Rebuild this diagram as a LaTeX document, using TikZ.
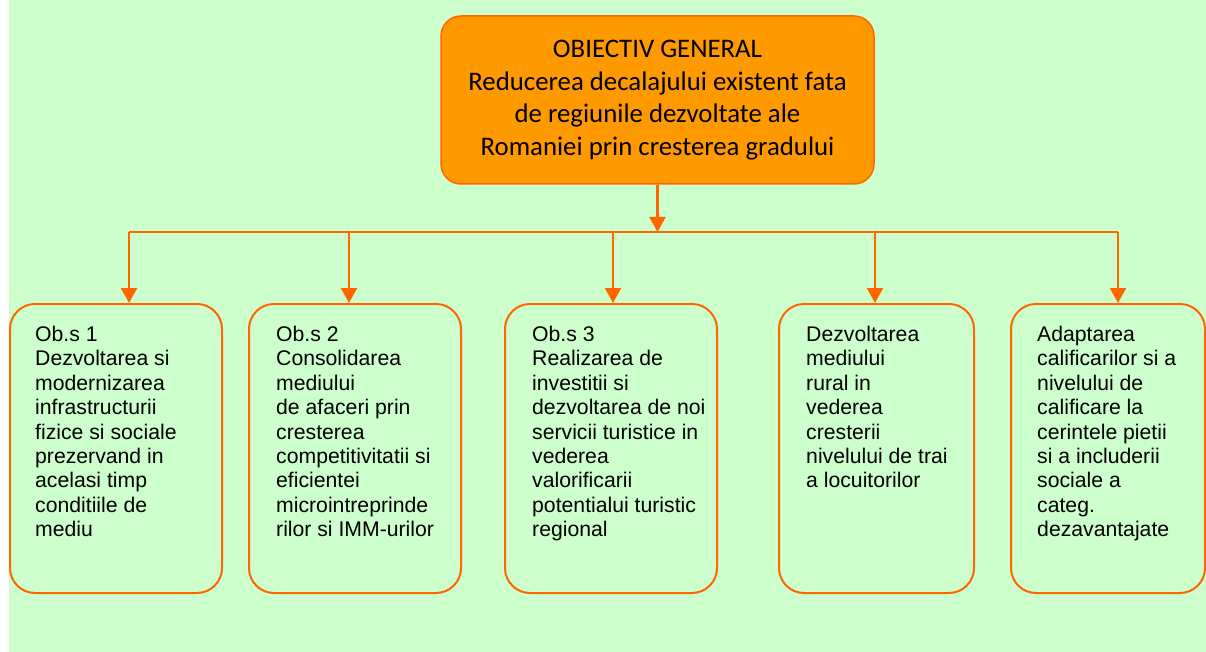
\documentclass[tikz,border=0pt]{standalone}
\usepackage{fontspec}
\setmainfont{Liberation Sans}
\newfontfamily\calfont{Carlito}
\usetikzlibrary{arrows.meta}
\definecolor{bggreen}{HTML}{CCFFCC}
\definecolor{ofill}{HTML}{FF9900}
\definecolor{oline}{HTML}{FF6600}
\begin{document}
\begin{tikzpicture}[x=1pt,y=-1pt,
  topbox/.style={draw=oline, fill=ofill, line width=1.5pt, rounded corners=20pt,
    minimum width=433pt, minimum height=168pt, align=center, inner sep=0pt,
    font=\calfont\fontsize{26.8}{32.7}\selectfont},
  subbox/.style={draw=oline, line width=2pt, rounded corners=25pt,
    minimum height=289pt, inner sep=0pt},
  subtext/.style={anchor=north west, align=left, inner sep=0pt,
    font=\fontsize{21.2}{24.4}\selectfont},
  conn/.style={draw=oline, line width=2.5pt, -{Triangle[length=15pt,width=16pt]}},
  busline/.style={draw=oline, line width=2pt}
]
\useasboundingbox (0,0) rectangle (1206,652);
\fill[white] (0,0) rectangle (1206,652);
\fill[bggreen] (9,0) rectangle (1206,652);

\node[topbox] (gen) at (657.5,100) {OBIECTIV GENERAL\\Reducerea decalajului existent fata\\de regiunile dezvoltate ale\\Romaniei prin cresterea gradului};

\node[subbox, minimum width=212pt] (b1) at (116,448.5) {};
\node[subbox, minimum width=212pt] (b2) at (355,448.5) {};
\node[subbox, minimum width=212pt] (b3) at (611,448.5) {};
\node[subbox, minimum width=195pt] (b4) at (876.5,448.5) {};
\node[subbox, minimum width=194pt] (b5) at (1108,448.5) {};

\node[subtext] (t1) at (35,326) {Ob.s 1\\Dezvoltarea si\\modernizarea\\infrastructurii\\fizice si sociale\\prezervand in\\acelasi timp\\conditiile de\\mediu};
\node[subtext] (t2) at (276,326) {Ob.s 2\\Consolidarea\\mediului\\de afaceri prin\\cresterea\\competitivitatii si\\eficientei\\microintreprinde\\rilor si IMM-urilor};
\node[subtext] (t3) at (532,326) {Ob.s 3\\Realizarea de\\investitii si\\dezvoltarea de noi\\servicii turistice in\\vederea\\valorificarii\\potentialui turistic\\regional};
\node[subtext] (t4) at (806,326) {Dezvoltarea\\mediului\\rural in\\vederea\\cresterii\\nivelului de trai\\a locuitorilor};
\node[subtext] (t5) at (1037,326) {Adaptarea\\calificarilor si a\\nivelului de\\calificare la\\cerintele pietii\\si a includerii\\sociale a\\categ.\\dezavantajate};

\coordinate (bus) at (0,232);
\coordinate (d1) at (129,232);
\coordinate (d2) at (349,232);
\coordinate (d3) at (613,232);
\coordinate (d4) at (875,232);
\coordinate (d5) at (1118,232);

\draw[busline] (d1) -- (d5);
\draw[conn] (gen.south) -- (gen.south |- bus);
\draw[conn] (d1) -- (d1 |- b1.north);
\draw[conn] (d2) -- (d2 |- b2.north);
\draw[conn] (d3) -- (d3 |- b3.north);
\draw[conn] (d4) -- (d4 |- b4.north);
\draw[conn] (d5) -- (d5 |- b5.north);
\end{tikzpicture}
\end{document}
